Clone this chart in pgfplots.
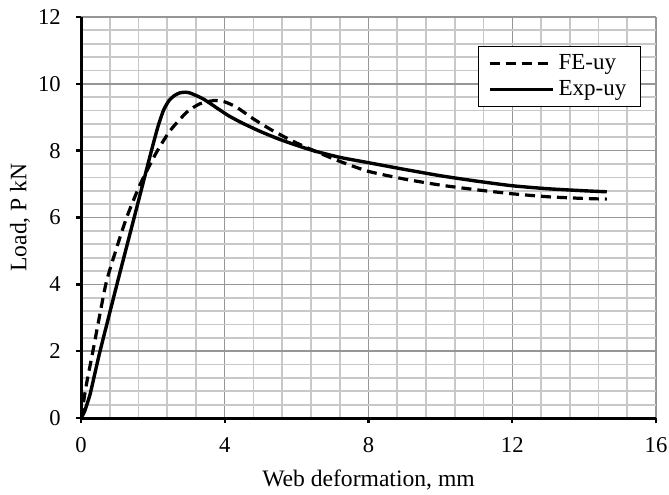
\documentclass[border=0pt]{standalone}
\usepackage{pgfplots}
\pgfplotsset{compat=1.18}
\usepackage{fontspec}
\setmainfont{Liberation Serif}
\definecolor{mingrid}{RGB}{200,200,200}
\definecolor{majgrid}{RGB}{150,150,150}
\begin{document}
\begin{tikzpicture}
\begin{axis}[
  scale only axis,
  width=287.5pt, height=200.5pt,
  xmin=0, xmax=16, ymin=0, ymax=12,
  xtick={0,4,8,12,16}, ytick={0,2,4,6,8,10,12},
  minor x tick num=4, minor y tick num=4,
  grid=both,
  major grid style={majgrid, line width=0.7pt},
  minor grid style={mingrid, line width=0.9pt},
  axis lines*=left,
  axis line style={black, line width=1.5pt, -},
  tick align=outside,
  major tick length=2.5pt,
  minor tick length=0pt,
  tick style={black, line width=1.2pt},
  /pgf/number format/assume math mode=true,
  tick label style={font=\fontsize{11.3pt}{13pt}\selectfont, inner sep=0pt},
  xticklabel style={anchor=north, yshift=-7pt},
  yticklabel style={anchor=east, xshift=-7.5pt},
  xlabel={Web deformation, mm},
  ylabel={Load, P kN},
  label style={font=\fontsize{11.8pt}{14pt}\selectfont},
  xlabel style={at={(axis description cs:0.5,-0.171)}, anchor=base},
  ylabel style={at={(axis description cs:-0.106,0.5)}, anchor=center},
  legend cell align=left,
  legend style={at={(0.69,0.928)}, anchor=north west, draw=black, line width=0.4pt, fill=white,
    font=\fontsize{11.5pt}{13pt}\selectfont, inner xsep=5pt, inner ysep=2pt, row sep=0pt},
  legend image code/.code={\draw[#1] (0pt,0pt) -- (31.5pt,0pt);},
]
\addplot[black, line width=1.6pt, dash pattern=on 5pt off 3pt, smooth, tension=0.35] coordinates {
(0,0) (0.06,0.4) (0.15,1.0) (0.34,2.05) (0.69,4) (0.98,5.05) (1.27,6) (1.65,7) (2.1,7.95)
(2.48,8.6) (2.94,9.15) (3.3,9.4) (3.7,9.5) (4.0,9.46) (4.33,9.3) (4.8,8.95) (5.3,8.62)
(5.9,8.28) (6.5,7.99) (7.2,7.68) (8,7.38) (9,7.15) (10,6.97) (11,6.83) (12,6.71)
(13,6.62) (14,6.57) (14.63,6.55)};
\addlegendentry{FE-uy}
\addplot[black, line width=1.7pt, smooth, tension=0.35] coordinates {
(0,0) (0.1,0.2) (0.25,0.7) (0.4,1.4) (0.53,2) (1.0,4) (1.48,6) (1.96,8) (2.15,8.75)
(2.3,9.22) (2.45,9.5) (2.6,9.65) (2.75,9.73) (2.9,9.75) (3.05,9.72) (3.4,9.55)
(3.75,9.3) (4.1,9.05) (4.5,8.82) (5.0,8.57) (5.5,8.35) (6.0,8.16) (6.5,7.99)
(7.2,7.8) (8,7.64) (9,7.44) (10,7.25) (11,7.09) (12,6.95) (13,6.86) (14,6.8) (14.63,6.77)};
\addlegendentry{Exp-uy}
\coordinate (sw) at (rel axis cs:0,0);
\coordinate (ne) at (rel axis cs:1,1);
\end{axis}
\pgfresetboundingbox
\path[use as bounding box] ([shift={(-40.5pt,-38pt)}]sw) rectangle ([shift={(6.5pt,8.5pt)}]ne);
\end{tikzpicture}
\end{document}
